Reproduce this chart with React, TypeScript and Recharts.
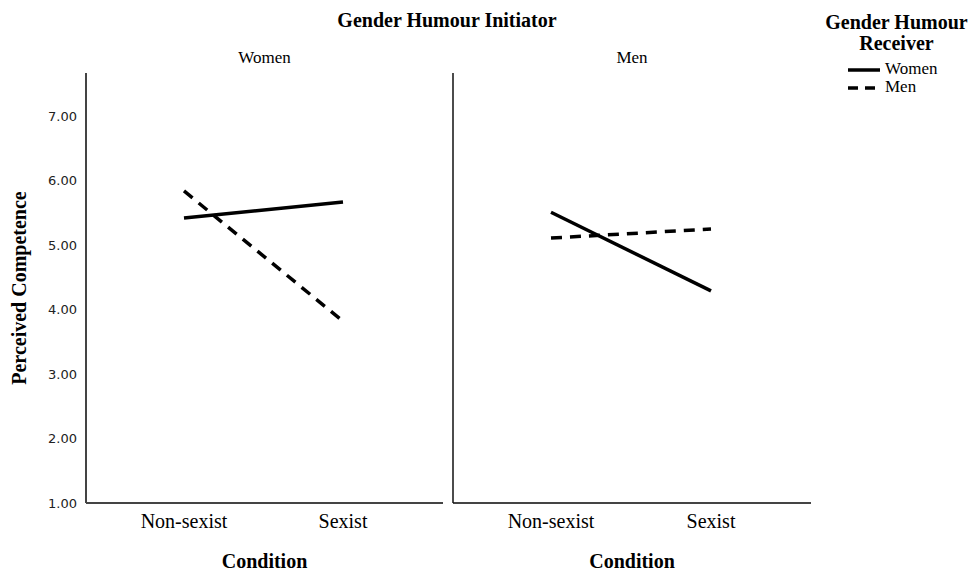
import React from 'react';
import { LineChart, Line, XAxis, YAxis, Legend } from 'recharts';

const conditions = ['Non-sexist', 'Sexist'];
const initiators = ['Women', 'Men'];
const receivers = ['Women', 'Men'];

// perceived competence, [non-sexist, sexist]
const womenInitWomenRecv = [5.42, 5.67];
const womenInitMenRecv = [5.84, 3.82];
const menInitWomenRecv = [5.51, 4.29];
const menInitMenRecv = [5.11, 5.25];

const yTicks = [1, 2, 3, 4, 5, 6, 7];

const serif = '"Liberation Serif", "Times New Roman", serif';
const sans = '"DejaVu Sans", sans-serif';

const buildRows = (women: number[], men: number[]) =>
  conditions.map((c, i) => ({ condition: c, Women: women[i], Men: men[i] }));

const leftData = buildRows(womenInitWomenRecv, womenInitMenRecv);
const rightData = buildRows(menInitWomenRecv, menInitMenRecv);

const dashes: Record<string, string | undefined> = { Women: undefined, Men: '11 8' };

const ReceiverLegend = () => (
  <div style={{ fontFamily: serif, color: '#000' }}>
    <div style={{ fontWeight: 'bold', fontSize: 20, lineHeight: '21px', textAlign: 'center', width: 143 }}>
      Gender Humour
      <br />
      Receiver
    </div>
    <div style={{ marginTop: 6, marginLeft: 23 }}>
      {receivers.map((r) => (
        <div key={r} style={{ display: 'flex', alignItems: 'flex-start', fontSize: 17, lineHeight: '18px', height: 18 }}>
          <svg width={32} height={18} style={{ marginRight: 5 }}>
            <line x1={0} y1={10} x2={32} y2={10} stroke="#000" strokeWidth={3.5} strokeDasharray={r === 'Men' ? '10 7' : undefined} />
          </svg>
          <span>{r}</span>
        </div>
      ))}
    </div>
  </div>
);

const Panel = ({ data, showY, width, margin, legend }: any) => (
  <LineChart width={width} height={571} data={data} margin={margin}>
    <XAxis
      dataKey="condition"
      interval={0}
      padding={{ left: 98, right: 100 }}
      height={68}
      tickSize={0}
      tickMargin={11}
      axisLine={{ stroke: '#444', strokeWidth: 2 }}
      tick={{ fontFamily: serif, fontSize: 20, fill: '#000' }}
      label={{ value: 'Condition', position: 'insideBottom', offset: 3, fontFamily: serif, fontSize: 20, fontWeight: 'bold', fill: '#000' }}
    />
    <YAxis
      type="number"
      domain={[1, 7.67]}
      ticks={yTicks}
      width={showY ? 86 : 3}
      tickSize={0}
      tickMargin={9}
      tick={showY ? { fontFamily: sans, fontSize: 13, fill: '#222' } : false}
      tickFormatter={(v: number) => v.toFixed(2)}
      axisLine={showY ? { stroke: '#444', strokeWidth: 2 } : { stroke: '#111', strokeWidth: 1.5 }}
      label={
        showY
          ? { value: 'Perceived Competence', angle: -90, position: 'insideLeft', offset: 19, textAnchor: 'middle', fontFamily: serif, fontSize: 20, fontWeight: 'bold', fill: '#000' }
          : undefined
      }
    />
    {receivers.map((r) => (
      <Line
        key={r}
        type="linear"
        dataKey={r}
        name={r}
        stroke="#000"
        strokeWidth={3.5}
        strokeDasharray={dashes[r]}
        dot={false}
        activeDot={false}
        isAnimationActive={false}
      />
    ))}
    {legend && (
      <Legend
        layout="vertical"
        align="center"
        verticalAlign="middle"
        content={<ReceiverLegend />}
        wrapperStyle={{ left: 375, top: 12, width: 143 }}
      />
    )}
  </LineChart>
);

export default function App() {
  return (
    <div style={{ position: 'absolute', left: 0, top: 0, width: 968, height: 571, background: '#fff' }}>
      <div style={{ position: 'absolute', left: 0, top: 10, width: 894, textAlign: 'center', fontFamily: serif, fontWeight: 'bold', fontSize: 20, lineHeight: '20px' }}>
        Gender Humour Initiator
      </div>
      <div style={{ position: 'absolute', left: 86, top: 49, width: 357, textAlign: 'center', fontFamily: serif, fontSize: 17, lineHeight: '17px' }}>
        {initiators[0]}
      </div>
      <div style={{ position: 'absolute', left: 453, top: 49, width: 358, textAlign: 'center', fontFamily: serif, fontSize: 17, lineHeight: '17px' }}>
        {initiators[1]}
      </div>
      <div style={{ position: 'absolute', left: 0, top: 0 }}>
        <Panel data={leftData} showY width={450} margin={{ top: 73, right: 7, bottom: 0, left: 0 }} />
      </div>
      <div style={{ position: 'absolute', left: 450, top: 0 }}>
        <Panel data={rightData} showY={false} width={518} margin={{ top: 73, right: 157, bottom: 0, left: 0 }} legend />
      </div>
    </div>
  );
}
